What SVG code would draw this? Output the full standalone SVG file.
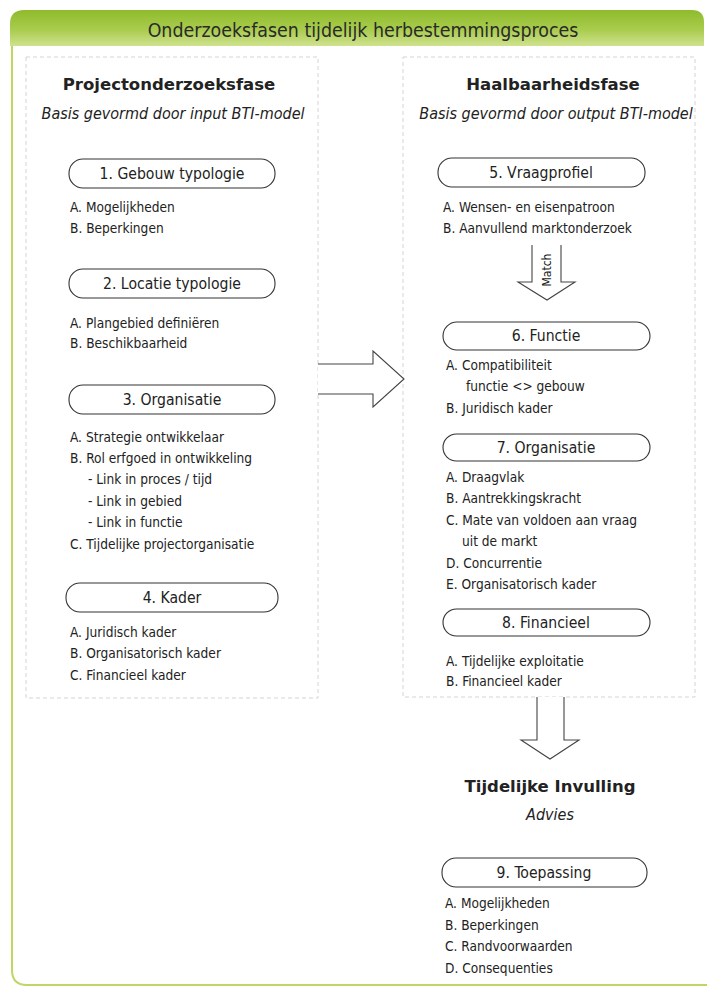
<svg xmlns="http://www.w3.org/2000/svg" width="707" height="987" viewBox="0 0 707 987">
  <defs>
    <linearGradient id="hdr" x1="0" y1="0" x2="0" y2="1">
      <stop offset="0" stop-color="#8fbb2c"/>
      <stop offset="0.55" stop-color="#a9cc4e"/>
      <stop offset="1" stop-color="#cfe28f"/>
    </linearGradient>
    <style>
      .t { font-family: "DejaVu Sans Condensed", "DejaVu Sans", sans-serif; font-stretch: condensed; fill: #222; }
      .title { font-size: 19.4px; fill: #2a2a2a; }
      .head { font-family: "DejaVu Sans", sans-serif; font-stretch: normal; font-size: 16.5px; font-weight: bold; }
      .sub { font-size: 16px; font-style: italic; }
      .lbl { font-size: 15.6px; }
      .it { font-size: 13.6px; }
      .pill { fill: #fff; stroke: #333; stroke-width: 1.1; }
      .panel { fill: #fff; stroke: #d4d4d4; stroke-width: 1; stroke-dasharray: 4 3; }
      .arrow { fill: #fff; stroke: #444; stroke-width: 1.1; stroke-linejoin: miter; }
    </style>
  </defs>

  <rect width="707" height="987" fill="#fff"/>

  <!-- outer frame -->
  <path d="M12 30 V970 Q12 985 27 985 H707" fill="none" stroke="#bcd862" stroke-width="2"/>
  <path d="M10 46 V24 Q10 10 24 10 H692 Q704 10 704 22 V46 Z" fill="url(#hdr)"/>
  <text class="t title" x="363" y="37" text-anchor="middle">Onderzoeksfasen tijdelijk herbestemmingsproces</text>

  <!-- phase panels -->
  <rect class="panel" x="26" y="57" width="292" height="641"/>
  <rect class="panel" x="403" y="57" width="292" height="640"/>

  <!-- connectors -->
  <g id="connectors">
    <path class="arrow" d="M318 364 H373 V351 L404 379 L373 407 V394 H318"/>
    <path class="arrow" d="M532 245 V282 H518 L547 300 L575 282 H561 V245"/>
    <text class="t" x="547" y="270" font-size="12" text-anchor="middle" transform="rotate(-90 547 270)" dy="4">Match</text>
    <path class="arrow" d="M537 697 V740 H521 L550 759 L579 740 H564 V697"/>
  </g>

  <!-- left column -->
  <g id="projectonderzoeksfase">
    <text class="t head" x="169" y="90" text-anchor="middle">Projectonderzoeksfase</text>
    <text class="t sub" x="173" y="119" text-anchor="middle">Basis gevormd door input BTI-model</text>
  </g>

  <g id="n1">
    <rect class="pill" x="69" y="159" width="206" height="29" rx="14"/>
    <text class="t lbl" x="172" y="179" text-anchor="middle">1. Gebouw typologie</text>
    <text class="t it" x="70" y="212">A. Mogelijkheden</text>
    <text class="t it" x="70" y="233">B. Beperkingen</text>
  </g>

  <g id="n2">
    <rect class="pill" x="69" y="269" width="206" height="29" rx="14"/>
    <text class="t lbl" x="172" y="289" text-anchor="middle">2. Locatie typologie</text>
    <text class="t it" x="70" y="328">A. Plangebied definiëren</text>
    <text class="t it" x="70" y="348">B. Beschikbaarheid</text>
  </g>

  <g id="n3">
    <rect class="pill" x="69" y="385" width="206" height="29" rx="14"/>
    <text class="t lbl" x="172" y="405" text-anchor="middle">3. Organisatie</text>
    <text class="t it" x="70" y="442">A. Strategie ontwikkelaar</text>
    <text class="t it" x="70" y="463">B. Rol erfgoed in ontwikkeling</text>
    <text class="t it" x="88" y="484">- Link in proces / tijd</text>
    <text class="t it" x="88" y="506">- Link in gebied</text>
    <text class="t it" x="88" y="527">- Link in functie</text>
    <text class="t it" x="70" y="549">C. Tijdelijke projectorganisatie</text>
  </g>

  <g id="n4">
    <rect class="pill" x="66" y="583" width="212" height="29" rx="14"/>
    <text class="t lbl" x="172" y="603" text-anchor="middle">4. Kader</text>
    <text class="t it" x="70" y="637">A. Juridisch kader</text>
    <text class="t it" x="70" y="658">B. Organisatorisch kader</text>
    <text class="t it" x="70" y="680">C. Financieel kader</text>
  </g>

  <!-- right column -->
  <g id="haalbaarheidsfase">
    <text class="t head" x="553" y="90" text-anchor="middle">Haalbaarheidsfase</text>
    <text class="t sub" x="556" y="119" text-anchor="middle">Basis gevormd door output BTI-model</text>
  </g>

  <g id="n5">
    <rect class="pill" x="438" y="158" width="207" height="29" rx="14"/>
    <text class="t lbl" x="541" y="178" text-anchor="middle">5. Vraagprofiel</text>
    <text class="t it" x="443" y="212">A. Wensen- en eisenpatroon</text>
    <text class="t it" x="443" y="233">B. Aanvullend marktonderzoek</text>
  </g>

  <g id="n6">
    <rect class="pill" x="443" y="322" width="207" height="28" rx="14"/>
    <text class="t lbl" x="546" y="341" text-anchor="middle">6. Functie</text>
    <text class="t it" x="446" y="370">A. Compatibiliteit</text>
    <text class="t it" x="466" y="391">functie &lt;&gt; gebouw</text>
    <text class="t it" x="446" y="413">B. Juridisch kader</text>
  </g>

  <g id="n7">
    <rect class="pill" x="443" y="434" width="207" height="27" rx="13.5"/>
    <text class="t lbl" x="546" y="453" text-anchor="middle">7. Organisatie</text>
    <text class="t it" x="446" y="482">A. Draagvlak</text>
    <text class="t it" x="446" y="503">B. Aantrekkingskracht</text>
    <text class="t it" x="446" y="525">C. Mate van voldoen aan vraag</text>
    <text class="t it" x="462" y="546">uit de markt</text>
    <text class="t it" x="446" y="568">D. Concurrentie</text>
    <text class="t it" x="446" y="589">E. Organisatorisch kader</text>
  </g>

  <g id="n8">
    <rect class="pill" x="443" y="609" width="207" height="27" rx="13.5"/>
    <text class="t lbl" x="546" y="628" text-anchor="middle">8. Financieel</text>
    <text class="t it" x="446" y="666">A. Tijdelijke exploitatie</text>
    <text class="t it" x="446" y="686">B. Financieel kader</text>
  </g>

  <g id="tijdelijke-invulling">
    <text class="t head" x="550" y="792" text-anchor="middle">Tijdelijke Invulling</text>
    <text class="t sub" x="550" y="820" text-anchor="middle">Advies</text>
  </g>

  <g id="n9">
    <rect class="pill" x="442" y="858" width="205" height="29" rx="14"/>
    <text class="t lbl" x="544" y="878" text-anchor="middle">9. Toepassing</text>
    <text class="t it" x="445" y="908">A. Mogelijkheden</text>
    <text class="t it" x="445" y="930">B. Beperkingen</text>
    <text class="t it" x="445" y="951">C. Randvoorwaarden</text>
    <text class="t it" x="445" y="973">D. Consequenties</text>
  </g>
</svg>
